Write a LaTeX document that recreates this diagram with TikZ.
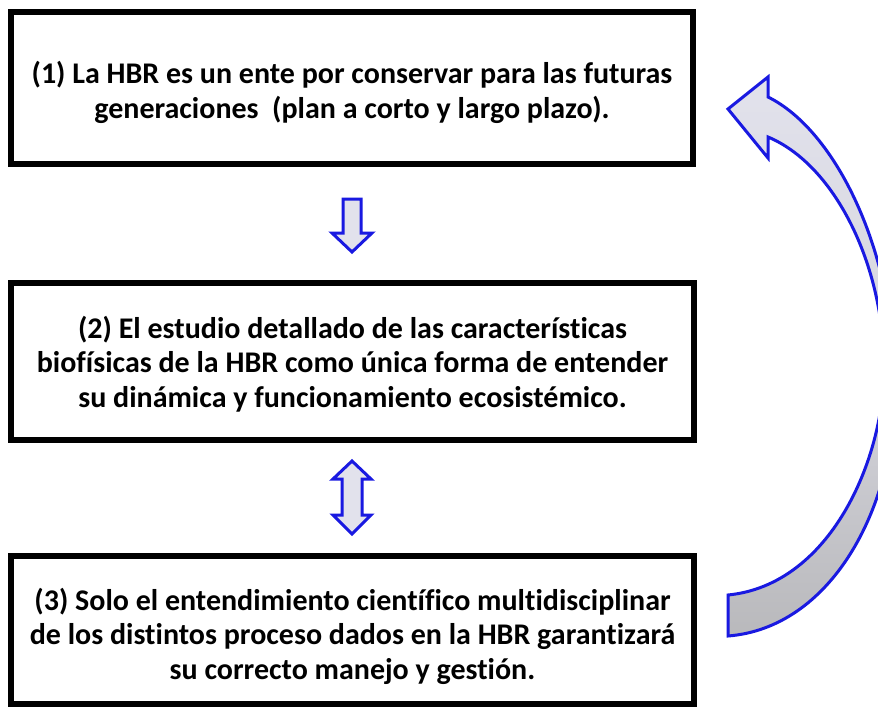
\documentclass[tikz,border=0pt]{standalone}
\usepackage{fontspec}
\setmainfont[Ligatures={NoCommon}]{Carlito}
\definecolor{arrowblue}{RGB}{25,25,225}
\definecolor{arrowfill}{RGB}{226,226,236}
\definecolor{arrowgray}{RGB}{185,185,188}
\begin{document}
\begin{tikzpicture}[x=1pt,y=-1pt,
  box/.style={draw=black,line width=6pt,fill=white,inner sep=0pt},
  boxtext/.style={inner sep=0pt,align=center,font=\bfseries\fontsize{30}{34.5}\selectfont},
  blockarrow/.style={draw=arrowblue,line width=3pt,fill=arrowfill,line join=miter}]
\useasboundingbox (0,0) rectangle (878,709);
\clip (0,0) rectangle (878,709);
\fill[white] (0,0) rectangle (878,709);

\node[box,minimum width=682pt,minimum height=152pt] (b1) at (352,88) {};
\node[box,minimum width=683pt,minimum height=157pt] (b2) at (352.5,361.5) {};
\node[box,minimum width=683pt,minimum height=148pt] (b3) at (352.5,630) {};

\node[boxtext] (t1) at (352,92.5)
  {(1) La HBR es un ente por conservar para las futuras\\generaciones\ \ (plan a corto y largo plazo).};
\node[boxtext] (t2) at (352.5,364)
  {(2) El estudio detallado de las características\\biofísicas de la HBR como única forma de entender\\su dinámica y funcionamiento ecosistémico.};
\node[boxtext] (t3) at (352.5,636)
  {(3) Solo el entendimiento científico multidisciplinar\\de los distintos proceso dados en la HBR garantizará\\su correcto manejo y gestión.};

% down arrow between (1) and (2)
\draw[blockarrow] (343,199) -- (361,199) -- (361,233) -- (372,233) -- (352,252)
  -- (332,233) -- (343,233) -- cycle;

% double arrow between (2) and (3)
\draw[blockarrow] (352,461) -- (371,479) -- (362,479) -- (362,515) -- (371,515)
  -- (352,534) -- (333,515) -- (342,515) -- (342,479) -- (333,479) -- cycle;

% curved return arrow from (3) to (1)
\draw[draw=arrowblue,line width=3pt,line join=miter,top color=arrowfill,bottom color=arrowgray,
      middle color=arrowfill!70!arrowgray]
  (728,109) -- (768,77) -- (768,97)
  .. controls (835,130) and (895,250) .. (895,388)
  .. controls (895,510) and (830,628) .. (728,636)
  -- (728,595)
  .. controls (830,585) and (884,460) .. (884,368)
  .. controls (884,265) and (835,165) .. (768,137)
  -- (768,158) -- cycle;
\end{tikzpicture}
\end{document}
